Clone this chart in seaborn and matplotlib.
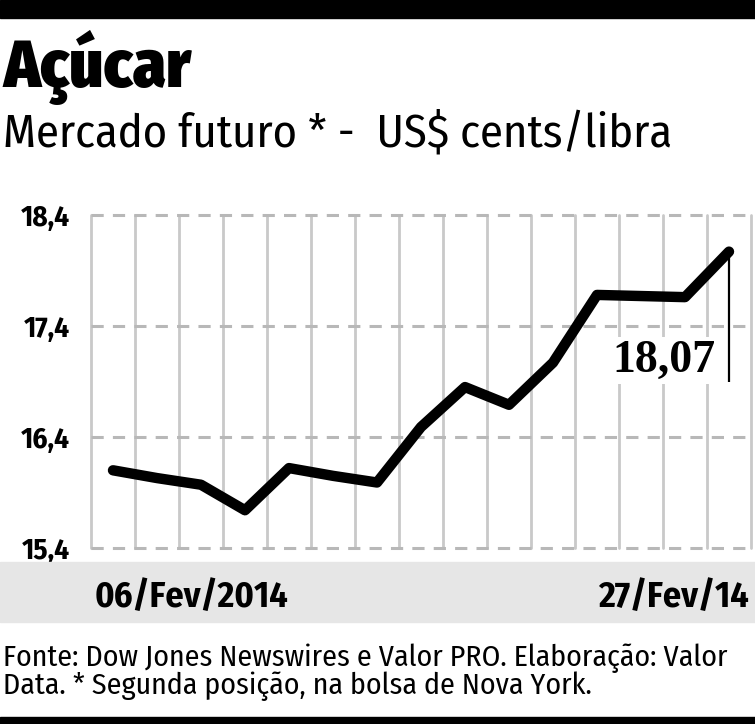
import matplotlib
matplotlib.use("Agg")
import matplotlib.pyplot as plt
from matplotlib.patches import Rectangle
import seaborn as sns
import pandas as pd

# ---- data ----
dates = ["06/02", "07/02", "10/02", "11/02", "12/02", "13/02", "14/02", "18/02",
         "19/02", "20/02", "21/02", "24/02", "25/02", "26/02", "27/02"]
prices = [16.10, 16.03, 15.97, 15.74, 16.12, 16.05, 15.99, 16.49,
          16.85, 16.69, 17.07, 17.68, 17.67, 17.66, 18.07]
y_ticks = [15.4, 16.4, 17.4, 18.4]
y_tick_labels = ["15,4", "16,4", "17,4", "18,4"]
first_label = "06/Fev/2014"
last_label = "27/Fev/14"
last_value_label = "18,07"

sns.set_style("white")
NARROW = ["Fira Sans Condensed", "DejaVu Sans"]
plt.rcParams["font.family"] = NARROW
plt.rcParams["text.color"] = "black"
plt.rcParams["ytick.labelcolor"] = "black"

W, H = 755, 724
fig = plt.figure(figsize=(W / 100, H / 100), dpi=100)

def fx(x):
    return x / W

def fy(y):
    return 1 - y / H

# decorative bars and band
fig.patches.append(Rectangle((0, fy(18)), 1, 18 / H, transform=fig.transFigure,
                             color="black", zorder=0))
fig.patches.append(Rectangle((0, 0), 1, (H - 717) / H, transform=fig.transFigure,
                             color="black", zorder=0))
fig.patches.append(Rectangle((0, fy(622)), 1, (622 - 562) / H, transform=fig.transFigure,
                             color="#e6e6e6", zorder=0))

left, right, top, bottom = 91, 751, 215, 548
ax = fig.add_axes([fx(left), fy(bottom), (right - left) / W, (bottom - top) / H])
ax.patch.set_alpha(0)

df = pd.DataFrame({"idx": list(range(len(dates))), "date": dates, "price": prices})

# grid: vertical solid, horizontal dashed
for i in range(len(dates) + 1):
    ax.axvline(i - 0.5, ymin=0, ymax=1, color="#c9c9c9", lw=2.0, zorder=1, clip_on=False)
for yt in y_ticks:
    ax.axhline(yt, color="#b8b8b8", lw=2.2, ls=(0, (4, 3)), zorder=1.5, clip_on=False)

sns.lineplot(data=df, x="idx", y="price", ax=ax, color="black", lw=7.5,
             solid_capstyle="round", solid_joinstyle="round", zorder=3, clip_on=False)

ax.set_xlim(-0.5, len(dates) - 0.5)
ax.set_ylim(15.4, 18.4)
ax.set_yticks(y_ticks)
ax.set_yticklabels(y_tick_labels, fontsize=21, fontweight="bold", family=NARROW)
ax.set_xticks([])
ax.tick_params(axis="y", length=0, pad=15)
ax.set_xlabel("")
ax.set_ylabel("")
for s in ax.spines.values():
    s.set_visible(False)

# annotation of last value
last_i = len(dates) - 1
ax.plot([last_i, last_i], [prices[-1], 16.9], color="black", lw=1.6, zorder=4,
        solid_capstyle="butt")
ax.text(last_i - 0.3, 17.09, last_value_label, ha="right", va="center",
        fontsize=33, fontweight="bold", family=["Liberation Serif", "DejaVu Serif"],
        zorder=5, bbox=dict(boxstyle="square,pad=0.05", fc="white", ec="none"))

# titles
fig.text(fx(3), fy(87), "Açúcar", fontsize=48, fontweight=900, ha="left",
         va="baseline", family=NARROW)
fig.text(fx(3), fy(147), "Mercado futuro * -  US$ cents/libra", fontsize=33.5,
         ha="left", va="baseline", family=NARROW)

# band labels
fig.text(fx(95), fy(607), first_label, fontsize=26, fontweight="bold", ha="left",
         va="baseline", family=NARROW)
fig.text(fx(749), fy(607), last_label, fontsize=26, fontweight="bold", ha="right",
         va="baseline", family=NARROW)

# footer (one text block, two lines)
fig.text(fx(3), fy(643),
         "Fonte: Dow Jones Newswires e Valor PRO. Elaboração: Valor\n"
         "Data. * Segunda posição, na bolsa de Nova York.",
         fontsize=21.5, ha="left", va="top", linespacing=0.95, family=NARROW)

fig.savefig("out.png", dpi=100, facecolor="white")
